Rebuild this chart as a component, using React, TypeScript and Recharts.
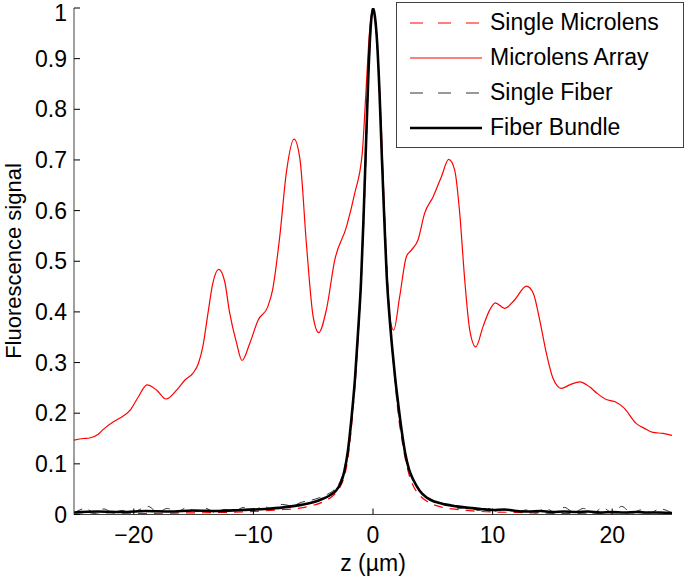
import { LineChart, Line, XAxis, YAxis, Legend } from "recharts";

type Pt = [number, number];

// z (um) -> fluorescence signal
const MICROLENS_ARRAY: Pt[] = [
  [-25, 0.147], [-24.2, 0.15], [-23.7, 0.151], [-23, 0.158], [-22.6, 0.167],
  [-21.7, 0.183], [-21.2, 0.19], [-20.3, 0.206], [-19.6, 0.233], [-18.9, 0.256],
  [-18.1, 0.246], [-17.3, 0.228], [-16.4, 0.246], [-15.7, 0.266], [-15.05, 0.279],
  [-14.6, 0.298], [-14.2, 0.335], [-13.8, 0.397], [-13.4, 0.456], [-12.9, 0.484],
  [-12.4, 0.46], [-12, 0.4], [-11.4, 0.338], [-10.95, 0.304], [-10.3, 0.338],
  [-9.6, 0.384], [-8.8, 0.41], [-8.4, 0.443], [-7.8, 0.548], [-7.25, 0.674],
  [-6.6, 0.741], [-6.1, 0.7], [-5.57, 0.535], [-5, 0.39], [-4.54, 0.359],
  [-3.9, 0.404], [-3.2, 0.502], [-2.22, 0.568], [-1.53, 0.634], [-0.9, 0.713],
  [-0.6, 0.83], [-0.3, 0.95], [0, 1], [0.3, 0.95], [0.7, 0.76],
  [1.12, 0.496], [1.4, 0.39], [1.73, 0.364], [2.23, 0.43], [2.79, 0.509],
  [3.21, 0.522], [3.76, 0.542], [4.32, 0.595], [5.02, 0.627], [5.72, 0.667],
  [6.33, 0.701], [6.83, 0.68], [7.25, 0.595], [7.67, 0.463], [8.09, 0.364],
  [8.59, 0.331], [9.2, 0.371], [9.76, 0.404], [10.23, 0.418], [11, 0.407],
  [11.85, 0.424], [12.83, 0.451], [13.4, 0.437], [13.94, 0.384], [14.5, 0.318],
  [15.05, 0.269], [15.75, 0.249], [16.45, 0.256], [17.28, 0.262], [18.1, 0.252],
  [18.7, 0.24], [19.5, 0.227], [20.2, 0.223], [21, 0.21], [22, 0.18],
  [22.7, 0.17], [23.4, 0.162], [24.25, 0.16], [25, 0.156],
];

const SINGLE_MICROLENS: Pt[] = [
  [-25, 0.001], [-22, 0.001], [-19, 0.002], [-16, 0.003], [-13, 0.004],
  [-10, 0.006], [-8, 0.009], [-6, 0.013], [-5, 0.018], [-4, 0.027],
  [-3.3, 0.038], [-2.8, 0.052], [-2.4, 0.075], [-2.1, 0.11], [-1.7, 0.2],
  [-1.4, 0.29], [-1.2, 0.37], [-1, 0.46], [-0.8, 0.59], [-0.6, 0.73],
  [-0.4, 0.87], [-0.2, 0.97], [0, 1], [0.2, 0.97], [0.45, 0.88],
  [0.7, 0.74], [0.9, 0.61], [1.1, 0.5], [1.3, 0.42], [1.5, 0.36],
  [1.75, 0.29], [2.1, 0.2], [2.4, 0.15], [2.7, 0.11], [3, 0.08],
  [3.4, 0.055], [3.9, 0.038], [4.5, 0.026], [5.5, 0.016], [7, 0.01],
  [9, 0.006], [12, 0.004], [16, 0.002], [20, 0.001], [25, 0.001],
];

const SINGLE_FIBER: Pt[] = [
  [-25, 0.003], [-24, 0.012], [-23.3, 0.002], [-22.5, 0.011], [-21.8, 0.004],
  [-21, 0.008], [-20.2, 0.003], [-19.5, 0.01], [-18.8, 0.016], [-18, 0.004],
  [-17.2, 0.012], [-16.4, 0.005], [-15.6, 0.013], [-14.8, 0.006], [-14, 0.012],
  [-13.2, 0.004], [-12.4, 0.01], [-11.6, 0.007], [-10.8, 0.014], [-10, 0.008],
  [-9.2, 0.016], [-8.4, 0.011], [-7.6, 0.02], [-6.8, 0.017], [-6, 0.024],
  [-5.2, 0.028], [-4.5, 0.033], [-3.8, 0.04], [-3.2, 0.05], [-2.7, 0.068],
  [-2.3, 0.1], [-2, 0.14], [-1.7, 0.21], [-1.4, 0.3], [-1.15, 0.39],
  [-0.9, 0.5], [-0.65, 0.66], [-0.4, 0.84], [-0.2, 0.95], [0, 1],
  [0.2, 0.97], [0.45, 0.88], [0.7, 0.74], [0.95, 0.6], [1.2, 0.47],
  [1.45, 0.37], [1.7, 0.3], [2, 0.23], [2.3, 0.175], [2.7, 0.12],
  [3.1, 0.085], [3.6, 0.06], [4.2, 0.04], [4.9, 0.03], [5.6, 0.02],
  [6.4, 0.018], [7.2, 0.012], [8, 0.015], [8.8, 0.008], [9.6, 0.012],
  [10.4, 0.006], [11.2, 0.01], [12, 0.004], [12.8, 0.009], [13.6, 0.003],
  [14.4, 0.012], [15.2, 0.005], [16, 0.014], [16.8, 0.004], [17.6, 0.012],
  [18.4, 0.003], [19.2, 0.013], [20, 0.004], [20.8, 0.016], [21.6, 0.003],
  [22.4, 0.009], [23.2, 0.004], [24, 0.011], [25, 0.003],
];

const FIBER_BUNDLE: Pt[] = [
  [-25, 0.004], [-23, 0.006], [-21, 0.005], [-19, 0.007], [-17, 0.006],
  [-15, 0.008], [-13, 0.007], [-11, 0.009], [-9, 0.011], [-7.5, 0.014],
  [-6, 0.019], [-5, 0.024], [-4.2, 0.031], [-3.6, 0.038], [-3.1, 0.047],
  [-2.7, 0.062], [-2.4, 0.085], [-2.1, 0.125], [-1.8, 0.19], [-1.5, 0.27],
  [-1.25, 0.36], [-1, 0.46], [-0.8, 0.58], [-0.6, 0.72], [-0.4, 0.86],
  [-0.2, 0.96], [0, 1], [0.15, 0.985], [0.35, 0.93], [0.55, 0.83],
  [0.75, 0.7], [0.95, 0.58], [1.15, 0.47], [1.35, 0.4], [1.6, 0.33],
  [1.85, 0.27], [2.1, 0.22], [2.4, 0.165], [2.7, 0.12], [3, 0.09],
  [3.4, 0.067], [3.9, 0.047], [4.5, 0.033], [5.2, 0.025], [6, 0.02],
  [7, 0.016], [8, 0.013], [9, 0.011], [10, 0.009], [11, 0.01],
  [12, 0.007], [13, 0.006], [14, 0.007], [15, 0.005], [16, 0.006],
  [17, 0.005], [18, 0.006], [19, 0.004], [20, 0.005], [21, 0.004],
  [22, 0.005], [23, 0.004], [24, 0.004], [25, 0.003],
];

const X_TICKS = [-20, -10, 0, 10, 20];
const Y_TICKS = [0, 0.1, 0.2, 0.3, 0.4, 0.5, 0.6, 0.7, 0.8, 0.9, 1];

const FONT = '"Liberation Sans", Arial, Helvetica, sans-serif';
const AXIS = "#404040";

const toRows = (pts: Pt[]) => pts.map(([z, v]) => ({ z, v }));

const LEGEND_ITEMS = [
  { name: "Single Microlens", color: "#ff0000", dash: "13 15", width: 1.2 },
  { name: "Microlens Array", color: "#ff0000", dash: undefined, width: 1.2 },
  { name: "Single Fiber", color: "#333333", dash: "13 15", width: 1 },
  { name: "Fiber Bundle", color: "#000000", dash: undefined, width: 2.6 },
];

function LegendBox() {
  return (
    <div
      style={{
        boxSizing: "border-box",
        width: 288,
        height: 146,
        border: `1px solid ${AXIS}`,
        background: "#fff",
        paddingTop: 2,
        fontFamily: FONT,
        fontSize: 23,
        color: "#000",
      }}
    >
      {LEGEND_ITEMS.map((it) => (
        <div key={it.name} style={{ display: "flex", alignItems: "center", height: 35 }}>
          <svg width={72} height={10} style={{ marginLeft: 13 }}>
            <line x1={0} y1={5} x2={72} y2={5} stroke={it.color} strokeWidth={it.width} strokeDasharray={it.dash} />
          </svg>
          <span style={{ marginLeft: 8, lineHeight: 1 }}>{it.name}</span>
        </div>
      ))}
    </div>
  );
}

const fmtX = (v: number) => (v < 0 ? `\u2212${-v}` : `${v}`);

export default function App() {
  const tickStyle = { fontSize: 23, fontFamily: FONT, fill: "#000" };
  return (
    <div style={{ position: "absolute", left: 0, top: 0, width: 685, height: 578, background: "#fff" }}>
      <LineChart width={685} height={578} margin={{ top: 8, right: 13, bottom: 23.5, left: 14 }}>
        <XAxis
          xAxisId="b"
          type="number"
          dataKey="z"
          domain={[-25, 25]}
          ticks={X_TICKS}
          tickFormatter={fmtX}
          allowDataOverflow
          height={40}
          tickSize={-6}
          tickMargin={18}
          stroke={AXIS}
          tick={tickStyle}
          tickLine={{ stroke: "#000" }}
          label={{
            content: () => (
              <text x={373} y={571} textAnchor="middle" fontSize={23} fontFamily={FONT} fill="#000">
                z (µm)
              </text>
            ),
          }}
        />
        <XAxis
          xAxisId="t"
          orientation="top"
          type="number"
          dataKey="z"
          domain={[-25, 25]}
          ticks={X_TICKS}
          allowDataOverflow
          height={0}
          tickSize={-6}
          tick={false}
          stroke={AXIS}
          tickLine={{ stroke: "#000" }}
        />
        <YAxis
          yAxisId="l"
          type="number"
          domain={[0, 1]}
          ticks={Y_TICKS}
          allowDataOverflow
          width={60}
          tickSize={-6}
          tickMargin={13}
          stroke={AXIS}
          tick={tickStyle}
          tickLine={{ stroke: "#000" }}
          label={{
            content: () => (
              <text
                x={0}
                y={0}
                transform="translate(13 261) rotate(-90)"
                textAnchor="middle"
                dominantBaseline="central"
                fontSize={22}
                fontFamily={FONT}
                fill="#000"
              >
                Fluorescence signal
              </text>
            ),
          }}
        />
        <YAxis
          yAxisId="r"
          orientation="right"
          type="number"
          domain={[0, 1]}
          ticks={Y_TICKS}
          allowDataOverflow
          width={0}
          tickSize={-6}
          tick={false}
          stroke={AXIS}
          tickLine={{ stroke: "#000" }}
        />
        <Line
          xAxisId="b"
          yAxisId="l"
          data={toRows(SINGLE_MICROLENS)}
          dataKey="v"
          name="Single Microlens"
          type="monotone"
          stroke="#ff0000"
          strokeWidth={1.2}
          strokeDasharray="9 7"
          dot={false}
          isAnimationActive={false}
        />
        <Line
          xAxisId="b"
          yAxisId="l"
          data={toRows(MICROLENS_ARRAY)}
          dataKey="v"
          name="Microlens Array"
          type="monotone"
          stroke="#ff0000"
          strokeWidth={1.2}
          dot={false}
          isAnimationActive={false}
        />
        <Line
          xAxisId="b"
          yAxisId="l"
          data={toRows(SINGLE_FIBER)}
          dataKey="v"
          name="Single Fiber"
          type="monotone"
          stroke="#333333"
          strokeWidth={1}
          strokeDasharray="9 7"
          dot={false}
          isAnimationActive={false}
        />
        <Line
          xAxisId="b"
          yAxisId="l"
          data={toRows(FIBER_BUNDLE)}
          dataKey="v"
          name="Fiber Bundle"
          type="monotone"
          stroke="#000000"
          strokeWidth={2.6}
          dot={false}
          isAnimationActive={false}
        />
        <Legend
          layout="vertical"
          align="center"
          verticalAlign="middle"
          content={() => <LegendBox />}
          wrapperStyle={{ position: "absolute", left: 396, top: 2, width: 288, height: 146 }}
        />
      </LineChart>
    </div>
  );
}
